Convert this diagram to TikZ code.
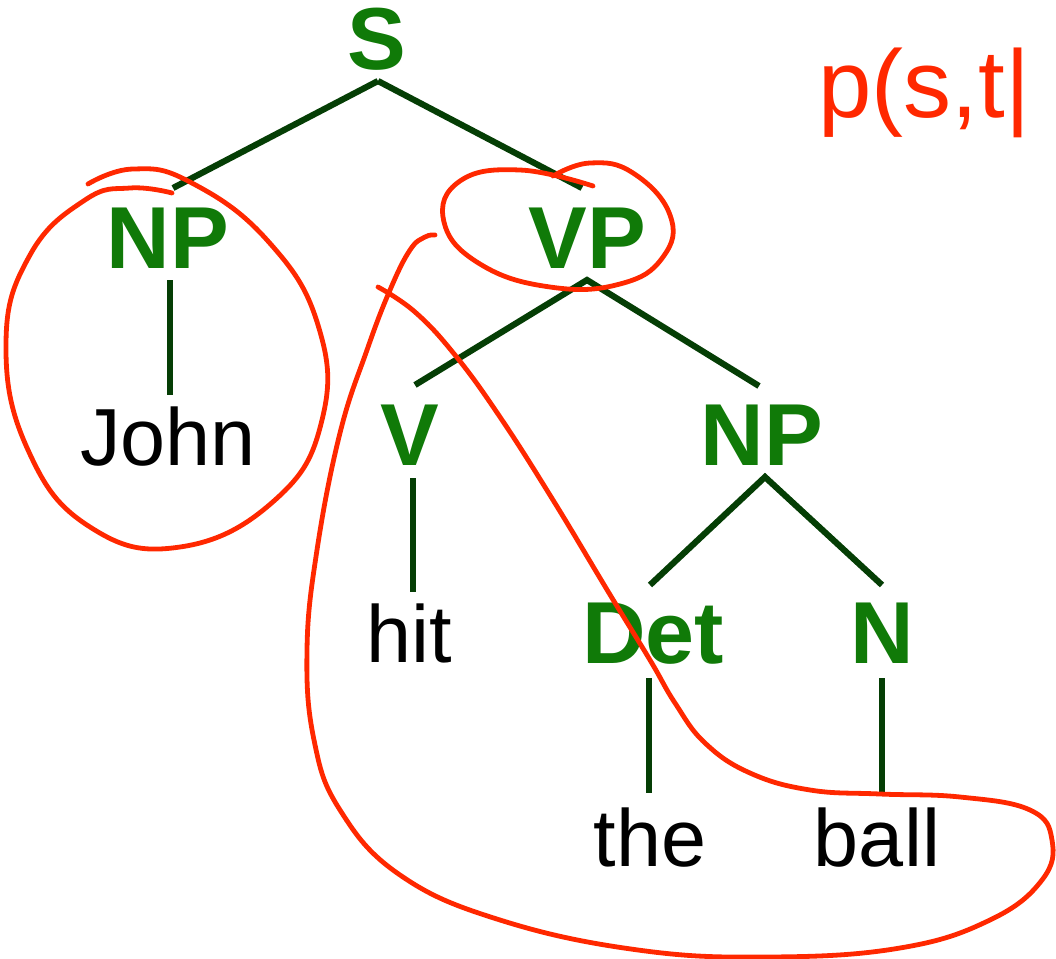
\documentclass[tikz,border=0pt]{standalone}
\usepackage{fontspec}
\setmainfont{Liberation Sans}
\usetikzlibrary{calc}
\definecolor{lab}{RGB}{16,122,8}
\definecolor{edgec}{RGB}{5,62,5}
\definecolor{inkred}{RGB}{255,40,0}
\begin{document}
\begin{tikzpicture}[x=0.5pt,y=-0.5pt,
  cat/.style={font=\fontsize{44}{44}\selectfont\bfseries, text=lab, anchor=base, inner sep=0pt},
  word/.style={font=\fontsize{40.5}{40.5}\selectfont, text=black, anchor=base, inner sep=0pt},
  branch/.style={draw=edgec, line width=3.1pt},
  redstroke/.style={draw=inkred, line width=2.4pt, line cap=round, line join=round}]
\useasboundingbox (0,0) rectangle (1056,959);
\fill[white] (0,0) rectangle (1056,959);

% category nodes
\node[cat] (S) at (377,69) {S};
\node[cat] (NPa) at (168,268) {NP};
\node[cat] (VP) at (587,268) {VP};
\node[cat] (V) at (410,465) {V};
\node[cat] (NPb) at (762,465) {NP};
\node[cat] (Det) at (653,663) {Det};
\node[cat] (N) at (882,663) {N};
% words
\node[word] (John) at (168,465) {John};
\node[word] (hit) at (409,662) {hit};
\node[word] (the) at (650,866) {the};
\node[word] (ball) at (877,866) {ball};

% branches
\draw[branch] ($(S.base)+(1,12)$) -- ($(NPa.base)+(5,-80)$);
\draw[branch] ($(S.base)+(1,12)$) -- ($(VP.base)+(-5,-80)$);
\draw[branch] ($(NPa.base)+(2,12)$) -- ($(John.base)+(2,-70)$);
\draw[branch] ($(V.base)+(5,-80)$) -- ($(VP.base)+(0,12)$) -- ($(NPb.base)+(-3,-79)$);
\draw[branch] ($(V.base)+(3,13)$) -- ($(hit.base)+(4,-70)$);
\draw[branch] ($(Det.base)+(-3,-78)$) -- ($(NPb.base)+(3,12)$) -- ($(N.base)+(0,-78)$);
\draw[branch] ($(Det.base)+(-4,15)$) -- ($(the.base)+(-1,-73)$);
\draw[branch] ($(N.base)+(0,15)$) -- ($(ball.base)+(5,-73)$);

% red annotations
\draw[redstroke] plot[smooth, tension=0.75] coordinates {
  (88,184) (133,169) (190,182) (267,240) (318,325) (322,420)
  (275,500) (180,547) (90,527) (28,450) (6,343) (30,255) (85,200)
  (130,188) (172,193)};
\draw[redstroke] plot[smooth, tension=0.75] coordinates {
  (593,186) (520,170) (460,181) (444,222) (480,264)
  (550,287) (620,284) (663,257) (670,215) (633,173)
  (590,163) (553,176)};
\draw[redstroke] plot[smooth, tension=0.7] coordinates {
  (435,235) (425,237) (410,250) (390,290) (367,350) (340,433) (317,550)
  (307,650) (314,740) (340,810) (400,875) (500,920) (638,950)
  (770,957) (900,948) (990,920) (1042,880) (1052,840) (1030,810) (960,797)
  (880,794) (810,790) (750,773) (705,743) (675,703) (650,660)
  (609,593) (553,500) (500,417) (455,355) (415,312) (378,287)};
\node[text=inkred, font=\fontsize{48}{48}\selectfont, anchor=base west, inner sep=0pt] (prob) at (818,117) {p(s,t|};
\end{tikzpicture}
\end{document}
